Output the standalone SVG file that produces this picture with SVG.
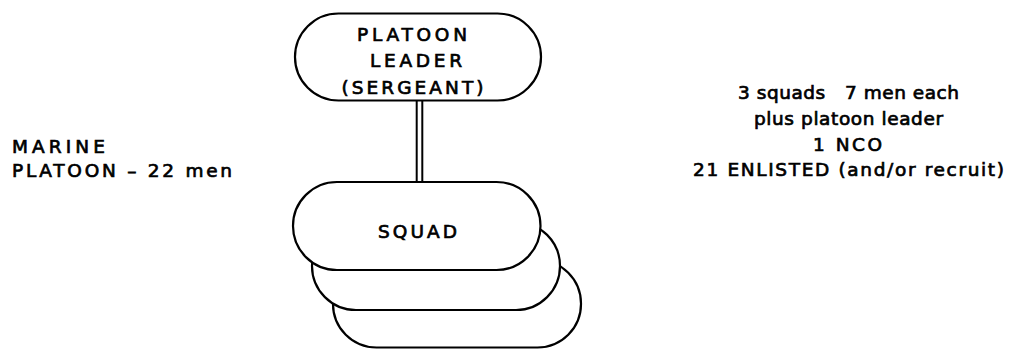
<svg xmlns="http://www.w3.org/2000/svg" width="1013" height="349" viewBox="0 0 1013 349">
<style>
.pill{fill:#fff;stroke:#000;stroke-width:2.2}
.conn{stroke:#000;stroke-width:2;fill:none}
text{font-family:"DejaVu Sans","Liberation Sans",Arial,sans-serif;fill:#000;stroke:#000;stroke-width:0.7;white-space:pre}
.n{font-size:18.5px;text-anchor:middle}
.r{font-size:18.5px;text-anchor:middle}
.l{font-size:18.5px}
</style>
<rect width="1013" height="349" fill="#fff"/>
<g id="connectors">
<line class="conn" x1="416.7" y1="101" x2="416.7" y2="182"/>
<line class="conn" x1="422.3" y1="101" x2="422.3" y2="182"/>
</g>
<g id="platoon-leader">
<rect class="pill" x="295" y="13.5" width="246" height="87" rx="43.5" ry="43.5"/>
<text class="n" x="412" y="41" textLength="110" lengthAdjust="spacing">PLATOON</text>
<text class="n" x="416" y="67" textLength="92" lengthAdjust="spacing">LEADER</text>
<text class="n" x="412.5" y="94" textLength="142" lengthAdjust="spacing">(SERGEANT)</text>
</g>
<g id="squad-3">
<rect class="pill" x="333" y="260" width="248" height="87.5" rx="43.5" ry="43.5"/>
</g>
<g id="squad-2">
<rect class="pill" x="312" y="222" width="248" height="88" rx="44" ry="44"/>
</g>
<g id="squad-1">
<rect class="pill" x="293" y="182" width="247.5" height="88" rx="44" ry="44"/>
<text class="n" x="417.5" y="238" textLength="79" lengthAdjust="spacing">SQUAD</text>
</g>
<g id="label-left">
<text class="l" x="12" y="153" textLength="93" lengthAdjust="spacing">MARINE</text>
<text class="l" x="12" y="177" textLength="220" lengthAdjust="spacing">PLATOON – 22 men</text>
</g>
<g id="label-right">
<text class="r" x="848.5" y="99" textLength="221" lengthAdjust="spacing">3 squads   7 men each</text>
<text class="r" x="848.5" y="124.5" textLength="189" lengthAdjust="spacing">plus platoon leader</text>
<text class="r" x="847.5" y="150.5" textLength="69" lengthAdjust="spacing">1 NCO</text>
<text class="r" x="848.5" y="176" textLength="311" lengthAdjust="spacing">21 ENLISTED (and/or recruit)</text>
</g>
</svg>
